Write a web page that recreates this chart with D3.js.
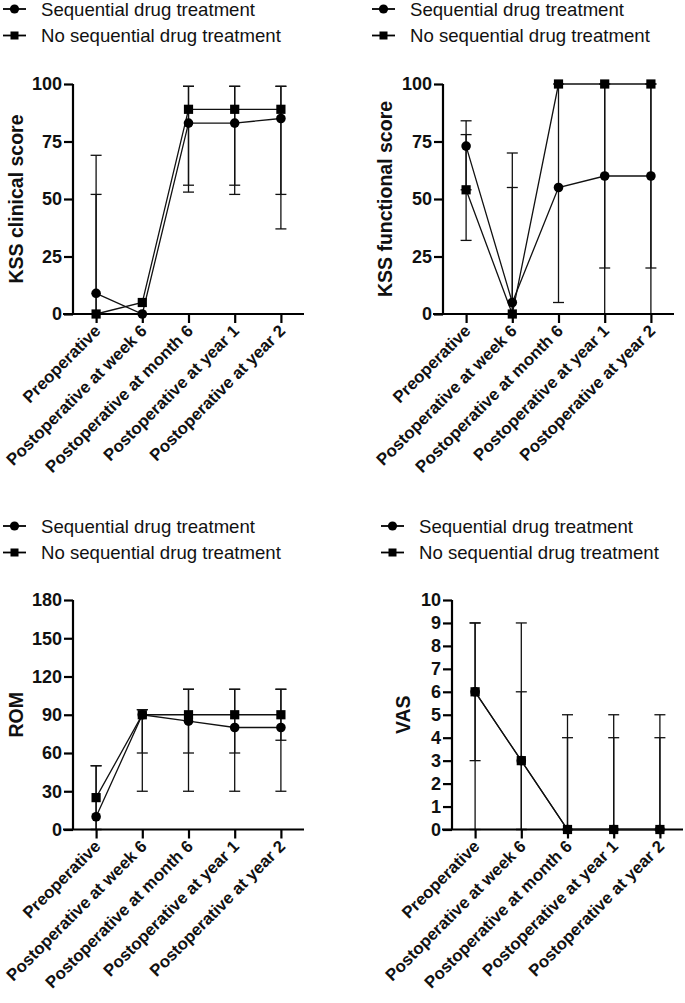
<!DOCTYPE html>
<html><head><meta charset="utf-8">
<script src="https://cdn.jsdelivr.net/npm/d3@7"></script>
<style>
html,body{margin:0;padding:0;background:#fff;}
svg{display:block;font-family:"Liberation Sans",Arial,sans-serif;}
</style></head>
<body><svg id="chart" width="685" height="1003"></svg>
<script>
const categories = ["Preoperative","Postoperative at week 6","Postoperative at month 6","Postoperative at year 1","Postoperative at year 2"];
const seriesNames = ["Sequential drug treatment","No sequential drug treatment"];

// KSS clinical score
const kssClinicalSeq = [9,0,83,83,85];
const kssClinicalSeqLow = [0,0,53,52,37];
const kssClinicalSeqHigh = [69,0,99,99,99];
const kssClinicalNoSeq = [0,5,89,89,89];
const kssClinicalNoSeqLow = [0,5,56,56,52];
const kssClinicalNoSeqHigh = [52,5,99,99,99];
const kssTicks = [0,25,50,75,100];

// KSS functional score
const kssFunctionalSeq = [73,5,55,60,60];
const kssFunctionalSeqLow = [32,0,5,20,20];
const kssFunctionalSeqHigh = [84,70,100,100,100];
const kssFunctionalNoSeq = [54,0,100,100,100];
const kssFunctionalNoSeqLow = [54,0,100,0,0];
const kssFunctionalNoSeqHigh = [78,55,100,100,100];

// ROM
const romSeq = [10,90,85,80,80];
const romSeqLow = [0,30,30,30,30];
const romSeqHigh = [50,94,110,110,110];
const romNoSeq = [25,90,90,90,90];
const romNoSeqLow = [0,60,60,60,70];
const romNoSeqHigh = [50,94,110,110,110];
const romTicks = [0,30,60,90,120,150,180];

// VAS
const vasSeq = [6,3,0,0,0];
const vasSeqLow = [0,0,0,0,0];
const vasSeqHigh = [9,9,5,5,5];
const vasNoSeq = [6,3,0,0,0];
const vasNoSeqLow = [3,0,0,0,0];
const vasNoSeqHigh = [9,6,4,4,4];
const vasTicks = [0,1,2,3,4,5,6,7,8,9,10];

const svg = d3.select("#chart");

function drawLegend(x, y) {
  const g = svg.append("g").attr("transform", `translate(${x},${y})`);
  seriesNames.forEach((name, i) => {
    const row = g.append("g").attr("transform", `translate(0,${i*26.5})`);
    row.append("line").attr("x1", 0).attr("x2", 23).attr("y1", 0).attr("y2", 0)
      .attr("stroke", "#000").attr("stroke-width", 1.8);
    if (i === 0) row.append("circle").attr("cx", 11.5).attr("cy", 0).attr("r", 4.6).attr("fill", "#000");
    else row.append("rect").attr("x", 7.5).attr("y", -4).attr("width", 8).attr("height", 8).attr("fill", "#000");
    row.append("text").attr("x", 38).attr("y", 0).attr("dy", "0.35em")
      .attr("font-size", 18.6).attr("fill", "#111").text(name);
  });
}

function drawPanel(cfg) {
  const g = svg.append("g");
  const x = d3.scalePoint().domain(categories).range([cfg.left, cfg.right]).padding(0.5);
  const y = d3.scaleLinear().domain([0, cfg.max]).range([cfg.bottom, cfg.top]);

  const series = [
    {v: cfg.seq, lo: cfg.seqLow, hi: cfg.seqHigh, shape: "circle"},
    {v: cfg.noSeq, lo: cfg.noSeqLow, hi: cfg.noSeqHigh, shape: "square"}
  ];
  const eb = g.append("g").attr("stroke", "#111").attr("stroke-width", 1.3);
  series.forEach(s => {
    categories.forEach((c, i) => {
      const cx = x(c);
      if (s.lo[i] === s.hi[i]) return;
      eb.append("line").attr("x1", cx).attr("x2", cx).attr("y1", y(s.lo[i])).attr("y2", y(s.hi[i]));
      [s.lo[i], s.hi[i]].forEach(val => {
        eb.append("line").attr("x1", cx - 5.5).attr("x2", cx + 5.5).attr("y1", y(val)).attr("y2", y(val));
      });
    });
  });

  const yAxis = d3.axisLeft(y).tickValues(cfg.ticks).tickSize(9).tickPadding(2).tickFormat(d3.format("d"));
  const ya = g.append("g").attr("transform", `translate(${cfg.left},0)`).call(yAxis);
  ya.select(".domain").attr("stroke-width", 2.2).attr("d", `M0,${cfg.bottom}V${cfg.top}`);
  ya.selectAll(".tick line").attr("stroke-width", 2.2);
  ya.selectAll("text").attr("font-size", 18).attr("font-weight", "bold").attr("fill", "#111").attr("font-family", "Liberation Sans, Arial, sans-serif");

  const xAxis = d3.axisBottom(x).tickSize(9).tickFormat("");
  const xa = g.append("g").attr("transform", `translate(0,${cfg.bottom})`).call(xAxis);
  xa.select(".domain").attr("stroke-width", 2.2).attr("d", `M${cfg.left - 10},0H${cfg.right}`);
  xa.selectAll(".tick line").attr("stroke-width", 2.2);
  xa.selectAll(".tick").append("text")
    .attr("transform", "translate(5,18) rotate(-45)")
    .attr("text-anchor", "end")
    .attr("font-size", 16.8).attr("font-weight", "bold").attr("fill", "#111")
    .attr("font-family", "Liberation Sans, Arial, sans-serif")
    .text(d => d);

  series.forEach(s => {
    const line = d3.line().x((d, i) => x(categories[i])).y(d => y(d));
    g.append("path").datum(s.v).attr("d", line).attr("fill", "none").attr("stroke", "#111").attr("stroke-width", 1.3);
  });
  series.forEach(s => {
    s.v.forEach((val, i) => {
      const cx = x(categories[i]), cy = y(val);
      if (s.shape === "circle") g.append("circle").attr("cx", cx).attr("cy", cy).attr("r", 4.8).attr("fill", "#000");
      else g.append("rect").attr("x", cx - 4.6).attr("y", cy - 4.6).attr("width", 9.2).attr("height", 9.2).attr("fill", "#000");
    });
  });

  g.append("text").attr("transform", `translate(${cfg.titleX},${(cfg.top + cfg.bottom)/2}) rotate(-90)`)
    .attr("text-anchor", "middle").attr("font-size", 19.5).attr("font-weight", "bold").attr("fill", "#111")
    .text(cfg.title);
}

drawLegend(3, 9);
drawLegend(372, 9);
drawLegend(3, 526);
drawLegend(381, 526);

drawPanel({left: 73, right: 304, top: 84, bottom: 314, max: 100, ticks: kssTicks, title: "KSS clinical score", titleX: 23,
  seq: kssClinicalSeq, seqLow: kssClinicalSeqLow, seqHigh: kssClinicalSeqHigh,
  noSeq: kssClinicalNoSeq, noSeqLow: kssClinicalNoSeqLow, noSeqHigh: kssClinicalNoSeqHigh});
drawPanel({left: 443, right: 674, top: 84, bottom: 314, max: 100, ticks: kssTicks, title: "KSS functional score", titleX: 392,
  seq: kssFunctionalSeq, seqLow: kssFunctionalSeqLow, seqHigh: kssFunctionalSeqHigh,
  noSeq: kssFunctionalNoSeq, noSeqLow: kssFunctionalNoSeqLow, noSeqHigh: kssFunctionalNoSeqHigh});
drawPanel({left: 73, right: 304, top: 600, bottom: 829.5, max: 180, ticks: romTicks, title: "ROM", titleX: 23,
  seq: romSeq, seqLow: romSeqLow, seqHigh: romSeqHigh,
  noSeq: romNoSeq, noSeqLow: romNoSeqLow, noSeqHigh: romNoSeqHigh});
drawPanel({left: 452, right: 683, top: 600, bottom: 829.5, max: 10, ticks: vasTicks, title: "VAS", titleX: 410,
  seq: vasSeq, seqLow: vasSeqLow, seqHigh: vasSeqHigh,
  noSeq: vasNoSeq, noSeqLow: vasNoSeqLow, noSeqHigh: vasNoSeqHigh});
</script></body></html>
